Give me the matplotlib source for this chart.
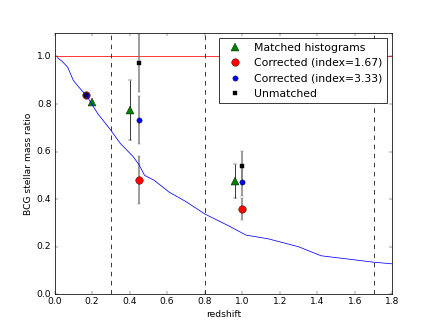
import matplotlib
matplotlib.use("Agg")
import matplotlib.pyplot as plt

plt.style.use('classic')

# Model curve
curve_z = [0.015, 0.04, 0.07, 0.10, 0.12, 0.175, 0.23, 0.30, 0.35, 0.42, 0.45, 0.48, 0.53,
           0.61, 0.70, 0.80, 0.93, 1.02, 1.14, 1.30, 1.42, 1.70, 1.80]
curve_r = [0.995, 0.98, 0.955, 0.90, 0.88, 0.83, 0.76, 0.69, 0.635, 0.578, 0.545, 0.50, 0.48,
           0.43, 0.39, 0.338, 0.287, 0.249, 0.233, 0.20, 0.162, 0.135, 0.128]

# Matched histograms
match_z = [0.20, 0.40, 0.96]
match_r = [0.81, 0.775, 0.475]
match_e = [0.0, 0.125, 0.072]

# Corrected (index=1.67)
c167_z = [0.17, 0.45, 1.00]
c167_r = [0.84, 0.48, 0.36]
c167_e = [0.0, 0.10, 0.047]

# Corrected (index=3.33)
c333_z = [0.17, 0.45, 1.00]
c333_r = [0.84, 0.733, 0.473]
c333_e = [0.0, 0.10, 0.06]

# Unmatched
unm_z = [0.17, 0.45, 1.00]
unm_r = [0.84, 0.971, 0.541]
unm_e = [0.0, 0.122, 0.063]

vlines = [0.3, 0.8, 1.7]

fig = plt.figure(figsize=(8, 6), dpi=54.5, facecolor='white')
ax = fig.add_subplot(111)

ax.axhline(1.0, color='r')
for v in vlines:
    ax.axvline(v, color='k', linestyle='--')

ax.errorbar(match_z, match_r, yerr=match_e, fmt='none', ecolor='k', capsize=3)
ax.errorbar(c167_z, c167_r, yerr=c167_e, fmt='none', ecolor='0.5', elinewidth=2, capsize=3)
ax.errorbar(c333_z, c333_r, yerr=c333_e, fmt='none', ecolor='0.5', elinewidth=2, capsize=3)
ax.errorbar(unm_z, unm_r, yerr=unm_e, fmt='none', ecolor='0.5', elinewidth=2, capsize=3)

ax.plot(match_z, match_r, 'g^', markersize=10, label='Matched histograms')
ax.plot(c167_z, c167_r, 'ro', markersize=10, label='Corrected (index=1.67)')
ax.plot(c333_z, c333_r, 'bo', markersize=7, label='Corrected (index=3.33)')
ax.plot(unm_z, unm_r, 'ks', markersize=4, label='Unmatched')

ax.plot(curve_z, curve_r, 'b-')

ax.set_xlim(0, 1.8)
ax.set_ylim(0, 1.1)
ax.set_xlabel('redshift')
ax.set_ylabel('BCG stellar mass ratio')
ax.legend(loc='upper right', numpoints=1)

fig.savefig('out.png', dpi=54.5, facecolor='white')
